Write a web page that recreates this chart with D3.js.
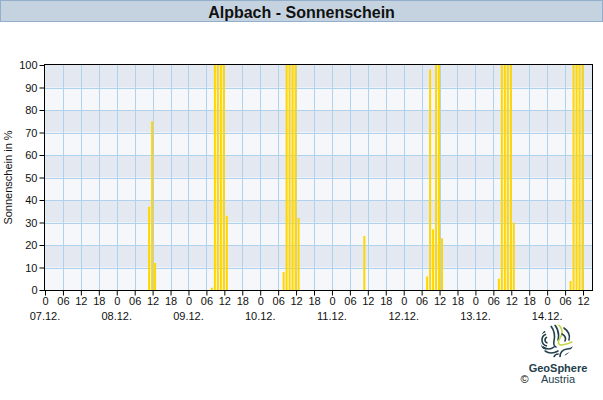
<!DOCTYPE html>
<html>
<head>
<meta charset="utf-8">
<script src="https://cdn.jsdelivr.net/npm/d3@7"></script>
<style>
  html, body { margin: 0; padding: 0; background: #fff; }
  svg { display: block; font-family: "Liberation Sans", Arial, sans-serif; }
</style>
</head>
<body>
<svg id="chart" width="603" height="400"></svg>
<script>
// ---- data ----
const title = "Alpbach - Sonnenschein";
const yLabel = "Sonnenschein in %";
const dayLabels = ["07.12.", "08.12.", "09.12.", "10.12.", "11.12.", "12.12.", "13.12.", "14.12."];
const hourTickLabels = ["0", "06", "12", "18"];
const yTicks = [0, 10, 20, 30, 40, 50, 60, 70, 80, 90, 100];
const sunTimes = [
  "2024-12-08T11", "2024-12-08T12", "2024-12-08T13",
  "2024-12-09T08", "2024-12-09T09", "2024-12-09T10", "2024-12-09T11", "2024-12-09T12", "2024-12-09T13",
  "2024-12-10T08", "2024-12-10T09", "2024-12-10T10", "2024-12-10T11", "2024-12-10T12", "2024-12-10T13",
  "2024-12-11T11",
  "2024-12-12T08", "2024-12-12T09", "2024-12-12T10", "2024-12-12T11", "2024-12-12T12", "2024-12-12T13",
  "2024-12-13T08", "2024-12-13T09", "2024-12-13T10", "2024-12-13T11", "2024-12-13T12", "2024-12-13T13",
  "2024-12-14T08", "2024-12-14T09", "2024-12-14T10", "2024-12-14T11", "2024-12-14T12"
];
const sunValues = [
  37, 75, 12,
  1, 100, 100, 100, 100, 33,
  8, 100, 100, 100, 100, 32,
  24,
  6, 98, 27, 100, 100, 23,
  5, 100, 100, 100, 100, 30,
  4, 100, 100, 100, 100
];

// ---- layout ----
const svg = d3.select("#chart");
const W = 603, H = 400;
const pLeft = 45, pRight = 592, pTop = 65, pBottom = 290;
const parse = d3.timeParse("%Y-%m-%dT%H");
const tStart = parse("2024-12-07T00"), tEnd = parse("2024-12-14T15");

const x = d3.scaleTime().domain([tStart, tEnd]).range([pLeft, pRight]);
const y = d3.scaleLinear().domain([0, 100]).range([pBottom, pTop]);

// title bar
svg.append("rect").attr("x", 0.5).attr("y", 0.5).attr("width", W - 1).attr("height", 21)
  .attr("fill", "#c5d3e0").attr("stroke", "#93afcb").attr("stroke-width", 1);
svg.append("text").attr("x", W / 2).attr("y", 17.5).attr("text-anchor", "middle")
  .attr("font-size", 16).attr("font-weight", "bold").attr("fill", "#111").text(title);

// bands
const bandData = d3.range(10);
svg.append("g").selectAll("rect").data(bandData).join("rect")
  .attr("x", pLeft).attr("width", pRight - pLeft)
  .attr("y", d => y((d + 1) * 10)).attr("height", d => y(d * 10) - y((d + 1) * 10))
  .attr("fill", d => d % 2 === 1 ? "#e4e9f1" : "#f5f7fa");

// grid
const sixHourTicks = d3.timeHour.every(6).range(tStart, tEnd);
svg.append("g").selectAll("line").data(sixHourTicks.slice(1)).join("line")
  .attr("x1", d => Math.round(x(d)) + 0.5).attr("x2", d => Math.round(x(d)) + 0.5)
  .attr("y1", pTop).attr("y2", pBottom)
  .attr("stroke", "#afd3ef").attr("stroke-width", 1);
svg.append("g").selectAll("line").data(yTicks.slice(1, -1)).join("line")
  .attr("x1", pLeft).attr("x2", pRight)
  .attr("y1", d => Math.round(y(d)) + 0.5).attr("y2", d => Math.round(y(d)) + 0.5)
  .attr("stroke", "#afd3ef").attr("stroke-width", 1);

// bars
const bars = sunTimes.map((t, i) => ({ t: parse(t), v: sunValues[i] }));
svg.append("g").selectAll("rect").data(bars).join("rect")
  .attr("x", d => x(d.t) - 1.5).attr("width", 2)
  .attr("y", d => y(d.v)).attr("height", d => y(0) - y(d.v))
  .attr("fill", "#ffd600");

// frame
svg.append("rect").attr("x", pLeft - 0.5).attr("y", pTop - 0.5)
  .attr("width", pRight - pLeft + 1).attr("height", pBottom - pTop + 1)
  .attr("fill", "none").attr("stroke", "#000").attr("stroke-width", 1);

// x axis
const xAxis = d3.axisBottom(x).tickValues(sixHourTicks).tickSize(5).tickPadding(2)
  .tickFormat(d => hourTickLabels[d.getHours() / 6]);
const gx = svg.append("g").attr("transform", `translate(0,${pBottom + 0.5})`).call(xAxis);
gx.select(".domain").remove();
gx.selectAll("text").attr("font-size", 11).attr("font-family", "Liberation Sans, Arial, sans-serif").attr("fill", "#111");
gx.selectAll("line").attr("stroke", "#000");

const dayTicks = d3.timeDay.every(1).range(tStart, tEnd);
svg.append("g").selectAll("text").data(dayTicks).join("text")
  .attr("x", d => x(d)).attr("y", 320).attr("text-anchor", "middle")
  .attr("font-size", 11).attr("fill", "#111")
  .text((d, i) => dayLabels[i]);

// y axis
const yAxis = d3.axisLeft(y).tickValues(yTicks).tickSize(5).tickPadding(2);
const gy = svg.append("g").attr("transform", `translate(${pLeft - 0.5},0)`).call(yAxis);
gy.select(".domain").remove();
gy.selectAll("text").attr("font-size", 11).attr("font-family", "Liberation Sans, Arial, sans-serif").attr("fill", "#111");
gy.selectAll("line").attr("stroke", "#000");

svg.append("text").attr("transform", `translate(12,${(pTop + pBottom) / 2}) rotate(-90)`)
  .attr("text-anchor", "middle").attr("font-size", 11).attr("fill", "#111").text(yLabel);

// logo
const logo = svg.append("g");
const cx = 557, cy = 341;
const dark = "#24404c", lime = "#c3d64a";
const clip = svg.append("clipPath").attr("id", "lc");
clip.append("circle").attr("cx", cx).attr("cy", cy).attr("r", 16.5);
const lg = logo.append("g").attr("clip-path", "url(#lc)").attr("fill", "none").attr("stroke-width", 1.6).attr("stroke-linecap", "round");
[3, 6, 9].forEach(r => {
  lg.append("path").attr("stroke", dark)
    .attr("d", d3.arc()({ innerRadius: r, outerRadius: r, startAngle: -Math.PI * 0.95, endAngle: -Math.PI * 0.1 }))
    .attr("transform", `translate(${cx - 9},${cy - 1})`);
});
lg.append("path").attr("stroke", dark).attr("d", `M${cx-14},${cy+6} Q${cx-8},${cy+10} ${cx-3},${cy+6}`);
lg.append("path").attr("stroke", dark).attr("d", `M${cx-12},${cy+10} Q${cx-6},${cy+14} ${cx+1},${cy+10}`);
lg.append("path").attr("stroke", dark).attr("d", `M${cx-6},${cy-15} Q${cx-1},${cy-8} ${cx-3},${cy} Q${cx-4},${cy+5} ${cx-1},${cy+6}`);
lg.append("path").attr("stroke", dark).attr("d", `M${cx-2},${cy-16} Q${cx+3},${cy-9} ${cx+1},${cy-1}`);
lg.append("path").attr("stroke", lime).attr("d", `M${cx+1},${cy-17} Q${cx+8},${cy-10} ${cx+3},${cy-3} Q${cx-1},${cy+4} ${cx+5},${cy+4} Q${cx+11},${cy+3} ${cx+15},${cy+1}`);
lg.append("path").attr("stroke", dark).attr("d", `M${cx+7},${cy-13} Q${cx+14},${cy-8} ${cx+12},${cy-1}`);
lg.append("path").attr("stroke", dark).attr("d", `M${cx+5},${cy-7} Q${cx+10},${cy-4} ${cx+8},${cy}`);
lg.append("path").attr("stroke", dark).attr("d", `M${cx+3},${cy+16} Q${cx+3},${cy+9} ${cx+10},${cy+8} Q${cx+14},${cy+8} ${cx+16},${cy+6}`);
lg.append("path").attr("stroke", dark).attr("d", `M${cx+8},${cy+16} Q${cx+9},${cy+12} ${cx+14},${cy+12}`);
lg.append("path").attr("stroke", dark).attr("d", `M${cx-3},${cy+16} Q${cx-2},${cy+13} ${cx+1},${cy+13}`);

logo.append("text").attr("x", 558).attr("y", 372).attr("text-anchor", "middle")
  .attr("font-size", 11).attr("font-weight", "bold").attr("fill", dark).text("GeoSphere");
logo.append("text").attr("x", 558).attr("y", 383).attr("text-anchor", "middle")
  .attr("font-size", 11).attr("fill", dark).text("Austria");
logo.append("text").attr("x", 524.5).attr("y", 383).attr("text-anchor", "middle")
  .attr("font-size", 11).attr("fill", "#000").text("©");
</script>
</body>
</html>
